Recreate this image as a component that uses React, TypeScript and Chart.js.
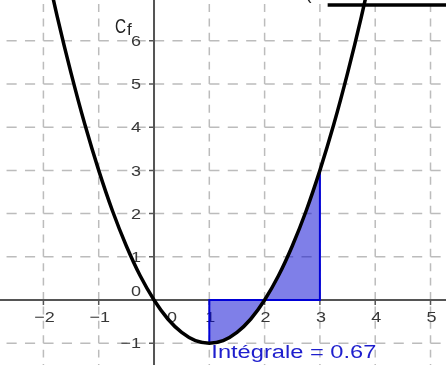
import React, { useEffect, useRef } from 'react';
import { Chart, registerables } from 'chart.js';

Chart.register(...registerables);

// Curve Cf
const curveX = [-2, -1.75, -1.5, -1.25, -1, -0.75, -0.5, -0.25, 0, 0.25, 0.5, 0.75, 1, 1.25, 1.5, 1.75, 2, 2.25, 2.5, 2.75, 3, 3.25, 3.5, 3.75, 4];
const curveY = [8, 6.56, 5.25, 4.06, 3, 2.06, 1.25, 0.56, 0, -0.44, -0.75, -0.94, -1, -0.94, -0.75, -0.44, 0, 0.56, 1.25, 2.06, 3, 4.06, 5.25, 6.56, 8];

// Shaded region between x = 1 and x = 3
const areaX = [1, 1.25, 1.5, 1.75, 2, 2.25, 2.5, 2.75, 3];
const areaY = [-1, -0.94, -0.75, -0.44, 0, 0.56, 1.25, 2.06, 3];

// Blue outline of the region
const boundX = [1, 1, 3, 3];
const boundY = [-1, 0, 0, 3];

// Axes
const gridX = [-3, -2, -1, 0, 1, 2, 3, 4, 5, 6];
const gridY = [-2, -1, 0, 1, 2, 3, 4, 5, 6, 7];
const xTicks = [-2, -1, 1, 2, 3, 4, 5];
const xTickLabels = ['\u22122', '\u22121', '1', '2', '3', '4', '5'];
const yTicks = [-1, 1, 2, 3, 4, 5, 6];
const yTickLabels = ['\u22121', '1', '2', '3', '4', '5', '6'];
const xRange = [-2.785, 5.28];
const yRange = [-1.505, 6.944];

const curveName = ['C', 'f'];
const integralText = 'Int\u00e9grale = 0.67';

const FONT = '"Liberation Sans", Arial, sans-serif';
const STRETCH = 1.2;

function stretchedText(ctx: any, text: string, x: number, y: number, align: string, sx: number) {
  const w = ctx.measureText(text).width * sx;
  let left = x;
  if (align === 'center') left = x - w / 2;
  else if (align === 'right') left = x - w;
  ctx.save();
  ctx.textAlign = 'left';
  ctx.translate(left, y);
  ctx.scale(sx, 1);
  ctx.fillText(text, 0, 0);
  ctx.restore();
}

const geoPlugin = {
  id: 'geoPlugin',
  beforeDatasetsDraw(chart: any) {
    const { ctx, chartArea: a } = chart;
    const xs = chart.scales.x;
    const ys = chart.scales.y;
    const px = (v: number) => xs.getPixelForValue(v);
    const py = (v: number) => ys.getPixelForValue(v);
    ctx.save();
    ctx.beginPath();
    ctx.rect(a.left, a.top, a.right - a.left, a.bottom - a.top);
    ctx.clip();
    // dashed grid, cell by cell
    ctx.strokeStyle = 'rgb(188,188,188)';
    ctx.lineWidth = 1.5;
    const cellW = px(1) - px(0);
    const cellH = py(0) - py(1);
    for (const gy of gridY) {
      const yy = py(gy);
      ctx.setLineDash([cellW / 3 * 0.55, cellW / 3 * 0.45]);
      for (let i = 0; i < gridX.length - 1; i++) {
        ctx.beginPath();
        ctx.moveTo(px(gridX[i]), yy);
        ctx.lineTo(px(gridX[i + 1]), yy);
        ctx.stroke();
      }
    }
    for (const gx of gridX) {
      const xx = px(gx);
      ctx.setLineDash([cellH / 3 * 0.55, cellH / 3 * 0.45]);
      for (let j = 0; j < gridY.length - 1; j++) {
        ctx.beginPath();
        ctx.moveTo(xx, py(gridY[j]));
        ctx.lineTo(xx, py(gridY[j + 1]));
        ctx.stroke();
      }
    }
    ctx.setLineDash([]);
    // axes
    ctx.strokeStyle = 'rgb(85,85,85)';
    ctx.lineWidth = 2;
    ctx.beginPath();
    ctx.moveTo(a.left, py(0));
    ctx.lineTo(a.right, py(0));
    ctx.moveTo(px(0), a.top);
    ctx.lineTo(px(0), a.bottom);
    ctx.stroke();
    ctx.lineWidth = 1.5;
    ctx.beginPath();
    for (const t of xTicks) {
      ctx.moveTo(px(t), py(0));
      ctx.lineTo(px(t), py(0) + 5);
    }
    for (const t of yTicks) {
      ctx.moveTo(px(0), py(t));
      ctx.lineTo(px(0) - 5, py(t));
    }
    ctx.stroke();
    // tick labels
    ctx.fillStyle = 'rgb(55,55,55)';
    ctx.font = '15px ' + FONT;
    ctx.textBaseline = 'middle';
    xTicks.forEach((t, i) => {
      stretchedText(ctx, xTickLabels[i], px(t) + 1, py(0) + 18, 'center', STRETCH);
    });
    yTicks.forEach((t, i) => {
      stretchedText(ctx, yTickLabels[i], px(0) - 13, py(t) + 1, 'right', STRETCH);
    });
    stretchedText(ctx, '0', px(0) - 13, py(0) - 8, 'right', STRETCH);
    stretchedText(ctx, '0', px(0) + 18, py(0) + 18, 'center', STRETCH);
    // curve name
    ctx.fillStyle = 'rgb(35,35,35)';
    ctx.textBaseline = 'alphabetic';
    ctx.font = '21px ' + FONT;
    stretchedText(ctx, curveName[0], px(0) - 39, py(6) - 8, 'left', 0.73);
    ctx.font = '17px ' + FONT;
    stretchedText(ctx, curveName[1], px(0) - 27, py(6) - 6, 'left', 1.0);
    ctx.restore();
  },
  afterDatasetsDraw(chart: any) {
    const { ctx, chartArea: a } = chart;
    const xs = chart.scales.x;
    const ys = chart.scales.y;
    const px = (v: number) => xs.getPixelForValue(v);
    const py = (v: number) => ys.getPixelForValue(v);
    ctx.save();
    // integral label
    ctx.fillStyle = 'rgb(30,30,205)';
    ctx.font = '18px ' + FONT;
    ctx.textBaseline = 'alphabetic';
    const w = ctx.measureText(integralText).width;
    stretchedText(ctx, integralText, px(1) + 2, py(-1) + 15, 'left', 165 / w);
    // cropped formula remnants at top right
    ctx.strokeStyle = '#000';
    ctx.lineWidth = 3.5;
    ctx.beginPath();
    ctx.moveTo(px(3.14), a.top + 5);
    ctx.lineTo(a.right, a.top + 5);
    ctx.stroke();
    ctx.fillStyle = '#222';
    ctx.font = '18px ' + FONT;
    ctx.textAlign = 'left';
    ctx.fillText('(', px(2.74), a.top - 1);
    ctx.restore();
  },
};

export default function App() {
  const ref = useRef<HTMLCanvasElement | null>(null);
  useEffect(() => {
    document.body.style.margin = '0';
    const canvas = ref.current;
    if (!canvas) return;
    const toPts = (xs: number[], ys: number[]) => xs.map((x, i) => ({ x, y: ys[i] }));
    const chart = new Chart(canvas, {
      type: 'line',
      data: {
        datasets: [
          {
            label: 'Cf',
            data: toPts(curveX, curveY),
            borderColor: '#000',
            borderWidth: 3.5,
            pointRadius: 0,
            cubicInterpolationMode: 'monotone',
            fill: false,
          },
          {
            label: 'bounds',
            data: toPts(boundX, boundY),
            borderColor: 'rgb(0,0,215)',
            borderWidth: 2,
            pointRadius: 0,
            tension: 0,
            fill: false,
          },
          {
            label: 'area',
            data: toPts(areaX, areaY),
            borderWidth: 0,
            borderColor: 'rgba(0,0,0,0)',
            backgroundColor: 'rgba(0,0,210,0.5)',
            pointRadius: 0,
            cubicInterpolationMode: 'monotone',
            fill: 'origin',
          },
        ],
      },
      options: {
        animation: false,
        responsive: false,
        devicePixelRatio: 1,
        layout: { padding: 0 },
        plugins: { legend: { display: false }, tooltip: { enabled: false } },
        events: [],
        scales: {
          x: { type: 'linear', min: xRange[0], max: xRange[1], display: false },
          y: { type: 'linear', min: yRange[0], max: yRange[1], display: false },
        },
      },
      plugins: [geoPlugin],
    } as any);
    return () => chart.destroy();
  }, []);
  return (
    <div style={{ width: 446, height: 365 }}>
      <canvas ref={ref} width={446} height={365} style={{ display: 'block' }} />
    </div>
  );
}
